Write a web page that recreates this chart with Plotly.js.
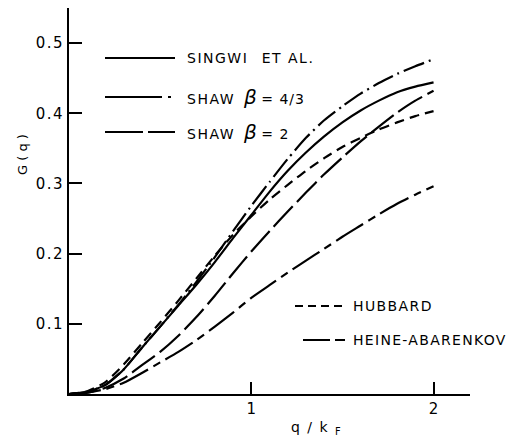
<!DOCTYPE html>
<html>
<head>
<meta charset="utf-8">
<script src="https://cdn.plot.ly/plotly-3.0.1.min.js"></script>
<style>html,body{margin:0;padding:0;background:#fff;}#chart{width:508px;height:436px;}</style>
</head>
<body>
<div id="chart"></div>
<script>
// q / kF sample points
var q = [0, 0.1, 0.2, 0.3, 0.4, 0.5, 0.6, 0.7, 0.8, 0.9, 1.0, 1.1, 1.2, 1.3, 1.4, 1.5, 1.6, 1.7, 1.8, 1.9, 2.0];
// G(q) for each theory
var singwi = [0, 0.003, 0.013, 0.035, 0.066, 0.096, 0.126, 0.156, 0.188, 0.222, 0.255, 0.288, 0.318, 0.344, 0.367, 0.387, 0.404, 0.418, 0.43, 0.438, 0.444];
var shaw43 = [0, 0.003, 0.013, 0.035, 0.066, 0.096, 0.127, 0.16, 0.195, 0.232, 0.268, 0.302, 0.335, 0.365, 0.39, 0.41, 0.428, 0.443, 0.456, 0.467, 0.477];
var shaw2 = [0, 0.002, 0.009, 0.022, 0.041, 0.06, 0.083, 0.11, 0.14, 0.172, 0.203, 0.232, 0.26, 0.287, 0.313, 0.337, 0.36, 0.381, 0.401, 0.418, 0.432];
var hubbard = [0, 0.004, 0.017, 0.042, 0.072, 0.102, 0.133, 0.165, 0.197, 0.227, 0.253, 0.277, 0.298, 0.318, 0.336, 0.352, 0.365, 0.377, 0.387, 0.396, 0.403];
var heine = [0, 0.002, 0.007, 0.016, 0.03, 0.045, 0.06, 0.077, 0.096, 0.116, 0.137, 0.155, 0.173, 0.19, 0.207, 0.224, 0.24, 0.256, 0.271, 0.284, 0.296];

var names = ["SINGWI  ET AL.", "SHAW  β = 4/3", "SHAW  β = 2", "HUBBARD", "HEINE-ABARENKOV"];
var yTicks = [0.1, 0.2, 0.3, 0.4, 0.5];
var yTickText = ["0.1", "0.2", "0.3", "0.4", "0.5"];
var xTicks = [1, 2];
var xTickText = ["1", "2"];

var ink = "#000";
var FONT = "DejaVu Sans";

function sp(t, ls) { return "<span style='letter-spacing:" + ls + "px'>" + t + "</span>"; }

function tr(y, name, dash) {
  return {x: q, y: y, name: name, type: "scatter", mode: "lines",
          line: {color: ink, width: 2.2, dash: dash, shape: "spline", smoothing: 0.6},
          showlegend: false, hoverinfo: "skip"};
}

var data = [
  tr(singwi, names[0], "solid"),
  tr(shaw43, names[1], "22px,5px,2px,5px"),
  tr(shaw2, names[2], "28px,6px"),
  tr(hubbard, names[3], "10px,6px"),
  tr(heine, names[4], "32px,6px,8px,6px")
];

// legend samples (layout only)
function px2paperX(p) { return (p - 69) / 401; }
function px2paperY(p) { return (394 - p) / 386; }
function legLine(x0, x1, y, dash) {
  return {type: "line", xref: "paper", yref: "paper",
          x0: px2paperX(x0), x1: px2paperX(x1), y0: px2paperY(y), y1: px2paperY(y),
          line: {color: ink, width: 2.2, dash: dash}};
}
function legText(x, y, text) {
  return {xref: "paper", yref: "paper", x: px2paperX(x), y: px2paperY(y),
          xanchor: "left", yanchor: "middle", showarrow: false, text: text,
          font: {family: FONT, size: 14, color: ink}};
}
var beta = "<span style='font-size:20px'><i>β</i></span>";

var shapes = [
  legLine(105, 175, 58, "solid"),
  legLine(105, 172, 97, "57px,6px,3px,20px"),
  legLine(105, 175, 132, "38px,5px,30px"),
  legLine(295, 342, 306, "8px,5px"),
  legLine(303, 345, 340, "27px,5px,10px")
];

var annotations = [
  legText(185, 58, sp("SINGWI", 1.5) + "   " + sp("ET AL.", 1.5)),
  legText(185, 97, sp("SHAW", 1.5) + "  " + beta + " " + sp("= 4/3", 1)),
  legText(185, 132, sp("SHAW", 1.5) + "  " + beta + " " + sp("= 2", 1)),
  legText(351, 306, sp("HUBBARD", 1.4)),
  legText(351, 340, sp("HEINE-ABARENKOV", 1.3)),
  {xref: "paper", yref: "paper", x: px2paperX(22), y: px2paperY(155), textangle: -90,
   xanchor: "center", yanchor: "middle", showarrow: false, text: "G ( q )",
   font: {family: FONT, size: 13, color: ink}},
  {xref: "paper", yref: "paper", x: px2paperX(316), y: px2paperY(428),
   xanchor: "center", yanchor: "middle", showarrow: false, text: sp("q / k ", 1.5) + "<sub>F</sub>",
   font: {family: FONT, size: 14, color: ink}}
];

var layout = {
  width: 508, height: 436,
  margin: {l: 69, r: 38, t: 8, b: 42},
  paper_bgcolor: "#fff", plot_bgcolor: "#fff",
  showlegend: false,
  xaxis: {range: [0, 2.2], showgrid: false, zeroline: false, showline: true,
          linecolor: ink, linewidth: 2, ticks: "inside", ticklen: 12, tickwidth: 2,
          tickcolor: ink, tickvals: xTicks, ticktext: xTickText,
          tickfont: {family: FONT, size: 15, color: ink}, fixedrange: true},
  yaxis: {range: [0, 0.55], showgrid: false, zeroline: false, showline: true,
          linecolor: ink, linewidth: 2, ticks: "inside", ticklen: 13, tickwidth: 2,
          tickcolor: ink, tickvals: yTicks, ticktext: yTickText.map(function (t) { return sp(t, 1.5); }),
          tickfont: {family: FONT, size: 15, color: ink}, fixedrange: true},
  shapes: shapes,
  annotations: annotations
};

Plotly.newPlot("chart", data, layout, {displayModeBar: false, staticPlot: true});
</script>
</body>
</html>
